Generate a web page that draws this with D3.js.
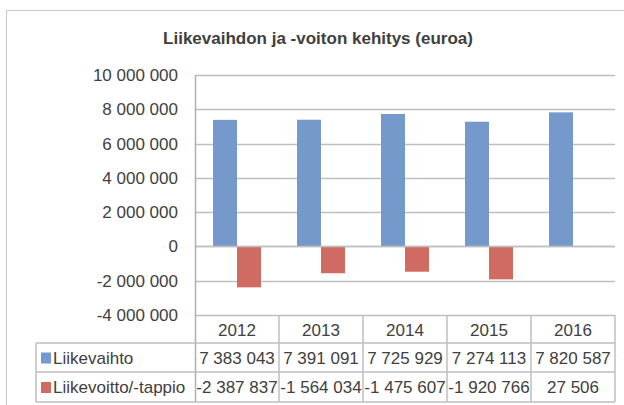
<!DOCTYPE html>
<html>
<head>
<meta charset="utf-8">
<script src="https://cdn.jsdelivr.net/npm/d3@7"></script>
<style>
  body { margin: 0; background: #fff; }
  text { font-family: "Liberation Sans", Arial, sans-serif; fill: #404040; }
</style>
</head>
<body>
<div id="chart"></div>
<script>
// data
const years = ["2012", "2013", "2014", "2015", "2016"];
const seriesNames = ["Liikevaihto", "Liikevoitto/-tappio"];
const liikevaihto = [7383043, 7391091, 7725929, 7274113, 7820587];
const liikevoitto = [-2387837, -1564034, -1475607, -1920766, 27506];
const yTicks = [-4000000, -2000000, 0, 2000000, 4000000, 6000000, 8000000, 10000000];
const colors = ["#7599cb", "#cf6b63"];

const width = 624, height = 405;
const plotLeft = 195, plotRight = 615, plotTop = 75, plotBottom = 315;
const rowLines = [343, 372, 402];
const gridCol = "#bfbfbf";

const fi = d3.formatLocale({ decimal: ",", thousands: " ", grouping: [3], currency: ["", " €"], minus: "-" });
const fmt = fi.format(",d");

const svg = d3.select("#chart").append("svg")
  .attr("width", width)
  .attr("height", height);

// ulkoreunus
svg.append("rect")
  .attr("x", 6.5).attr("y", 10.5)
  .attr("width", 640).attr("height", 420)
  .attr("fill", "none").attr("stroke", "#c8c8c8");

svg.append("text")
  .attr("x", 318).attr("y", 44)
  .attr("text-anchor", "middle")
  .style("font-size", "17px")
  .style("font-weight", "bold")
  .text("Liikevaihdon ja -voiton kehitys (euroa)");

const x = d3.scaleBand().domain(years).range([plotLeft, plotRight]);
const x1 = d3.scaleBand().domain(seriesNames).range([0, x.bandwidth()]).paddingOuter(0.75);
const y = d3.scaleLinear().domain([-4000000, 10000000]).range([plotBottom, plotTop]);

// gridlines
const grid = svg.append("g");
grid.selectAll("line")
  .data(yTicks)
  .join("line")
    .attr("x1", plotLeft).attr("x2", plotRight)
    .attr("y1", d => Math.round(y(d)) + 0.5).attr("y2", d => Math.round(y(d)) + 0.5)
    .attr("stroke", gridCol).attr("stroke-width", 1.5);

// y axis labels
const yAxis = svg.append("g")
  .attr("transform", `translate(${plotLeft},0)`)
  .call(d3.axisLeft(y).tickValues(yTicks).tickFormat(fmt).tickSize(0).tickPadding(17));
yAxis.select(".domain").remove();
yAxis.selectAll("text")
  .style("font-size", "17px")
  .attr("font-family", null)
  .attr("fill", null);

// palkit
const values = [liikevaihto, liikevoitto];
const bars = svg.append("g");
values.forEach((vals, s) => {
  bars.selectAll(null)
    .data(vals)
    .join("rect")
      .attr("x", (d, i) => x(years[i]) + x1(seriesNames[s]))
      .attr("width", x1.bandwidth())
      .attr("y", d => y(Math.max(0, d)))
      .attr("height", d => Math.abs(y(d) - y(0)))
      .attr("fill", colors[s]);
});

// nollaviiva palkkien päälle
svg.append("line")
  .attr("x1", plotLeft).attr("x2", plotRight)
  .attr("y1", Math.round(y(0)) + 0.5).attr("y2", Math.round(y(0)) + 0.5)
  .attr("stroke", gridCol).attr("stroke-width", 1.5);

// y-akselin viiva
svg.append("line")
  .attr("x1", plotLeft + 0.5).attr("x2", plotLeft + 0.5)
  .attr("y1", plotTop).attr("y2", rowLines[2])
  .attr("stroke", "#b0b0b0").attr("stroke-width", 1.5);

// datataulukko
const table = svg.append("g");
const tableLeft = 36;
table.selectAll("line.v")
  .data(years.map(c => x(c) + x.bandwidth()))
  .join("line")
    .attr("x1", d => d).attr("x2", d => d)
    .attr("y1", plotBottom).attr("y2", rowLines[2])
    .attr("stroke", gridCol).attr("stroke-width", 1.5);
table.append("line")
  .attr("x1", tableLeft).attr("x2", tableLeft)
  .attr("y1", rowLines[0]).attr("y2", rowLines[2])
  .attr("stroke", gridCol).attr("stroke-width", 1.5);
table.selectAll("line.h")
  .data(rowLines)
  .join("line")
    .attr("x1", tableLeft).attr("x2", plotRight)
    .attr("y1", d => d).attr("y2", d => d)
    .attr("stroke", gridCol).attr("stroke-width", 1.5);

table.selectAll("text.year")
  .data(years)
  .join("text")
    .attr("x", d => x(d) + x.bandwidth() / 2)
    .attr("y", plotBottom + 21)
    .attr("text-anchor", "middle")
    .style("font-size", "17px")
    .text(d => d);

values.forEach((vals, s) => {
  const cy = (rowLines[s] + rowLines[s + 1]) / 2;
  table.append("rect")
    .attr("x", 41).attr("y", cy - 5)
    .attr("width", 10).attr("height", 11)
    .attr("fill", colors[s]);
  table.append("text")
    .attr("x", 53).attr("y", cy + 6)
    .style("font-size", "17px")
    .text(seriesNames[s]);
  table.selectAll(null)
    .data(vals)
    .join("text")
      .attr("x", (d, i) => x(years[i]) + x.bandwidth() / 2)
      .attr("y", cy + 6)
      .attr("text-anchor", "middle")
      .style("font-size", "17px")
      .text(d => fmt(d));
});
</script>
</body>
</html>
